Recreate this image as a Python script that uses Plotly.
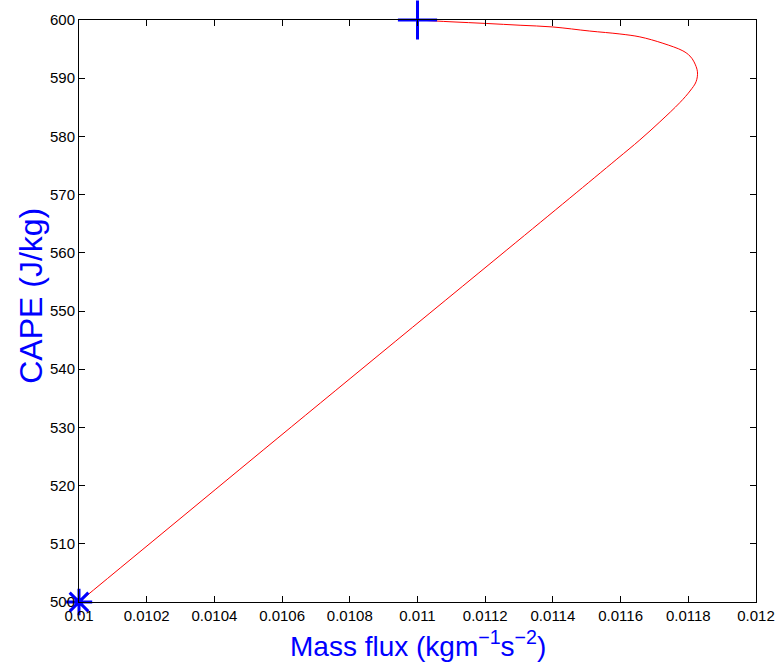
import plotly.graph_objects as go

mass_flux = [0.010000, 0.010269, 0.010544, 0.010889, 0.011264, 0.011450, 0.011589,
             0.011657, 0.011716, 0.011775, 0.011805, 0.011823, 0.011827, 0.011817,
             0.011805, 0.011784, 0.011725, 0.011657, 0.011598, 0.011509, 0.011400,
             0.011303, 0.011205, 0.011096, 0.011000]
cape = [500.0, 512.9, 526.1, 542.6, 560.5, 569.4, 576.1,
        579.4, 582.5, 585.8, 587.8, 589.4, 591.1, 592.8,
        593.8, 594.7, 596.0, 597.1, 597.6, 598.1, 598.8,
        599.1, 599.4, 599.7, 600.0]

start_pt = (0.01, 500)
end_pt = (0.011, 600)

x_ticks = [0.01, 0.0102, 0.0104, 0.0106, 0.0108, 0.011, 0.0112, 0.0114, 0.0116, 0.0118, 0.012]
x_tick_labels = ["0.01", "0.0102", "0.0104", "0.0106", "0.0108", "0.011", "0.0112",
                 "0.0114", "0.0116", "0.0118", "0.012"]
y_ticks = [500, 510, 520, 530, 540, 550, 560, 570, 580, 590, 600]

x_title = "Mass flux (kgm<sup>−1</sup>s<sup>−2</sup>)"
y_title = "CAPE (J/kg)"

font_family = "Arial, Liberation Sans, Helvetica, sans-serif"

fig = go.Figure()
fig.add_trace(go.Scatter(x=mass_flux, y=cape, mode="lines",
                         line=dict(color="red", width=1, shape="spline", smoothing=1.0),
                         showlegend=False, cliponaxis=False))
fig.add_trace(go.Scatter(x=[end_pt[0]], y=[end_pt[1]], mode="markers",
                         marker=dict(symbol="cross-thin", size=28, color="blue",
                                     line=dict(color="#0000ff", width=3)),
                         showlegend=False, cliponaxis=False))
fig.add_trace(go.Scatter(x=[start_pt[0]], y=[start_pt[1]], mode="markers",
                         marker=dict(symbol="asterisk", size=22, color="blue",
                                     line=dict(color="#0000ff", width=3)),
                         showlegend=False, cliponaxis=False))

axis_common = dict(showline=True, linecolor="black", linewidth=1, mirror="ticks",
                   ticks="inside", ticklen=6, tickcolor="black", showgrid=False,
                   zeroline=False, automargin=False,
                   tickfont=dict(family=font_family, size=15, color="black"))

fig.update_layout(
    width=777, height=668,
    margin=dict(l=79, r=21, t=20, b=66, autoexpand=False),
    paper_bgcolor="white", plot_bgcolor="white",
    font=dict(family=font_family),
    xaxis=dict(range=[0.01, 0.012], tickvals=x_ticks, ticktext=x_tick_labels,
               **axis_common),
    yaxis=dict(range=[500, 600], tickvals=y_ticks, **axis_common),
    annotations=[
        dict(text=x_title, xref="paper", yref="paper", x=0.5, y=-0.038,
             xanchor="center", yanchor="top", showarrow=False,
             font=dict(family=font_family, size=28, color="#0000ff")),
        dict(text=y_title, xref="paper", yref="paper", x=-0.071, y=0.526,
             xanchor="center", yanchor="middle", textangle=-90, showarrow=False,
             font=dict(family=font_family, size=32, color="#0000ff")),
    ],
)

fig.write_html("out.html")
